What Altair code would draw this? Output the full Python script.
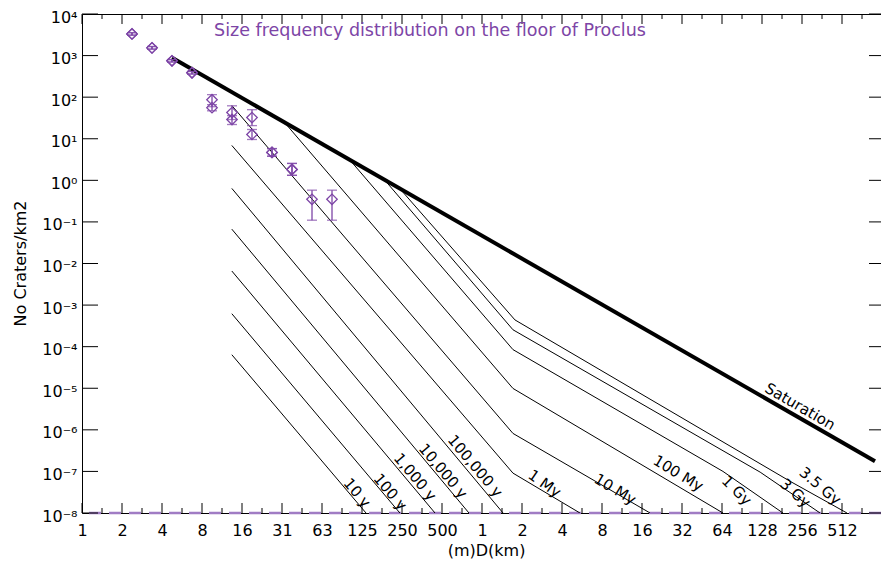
import altair as alt
import pandas as pd

# ---------------- data ----------------
title_text = "Size frequency distribution on the floor of Proclus"
x_title = "(m)D(km)"
y_title = "No Craters/km2"

# x axis: powers of two in km (labels in m below 1 km, then km)
x_tick_exponents = list(range(-10, 10))
x_tick_labels = ["1", "2", "4", "8", "16", "31", "63", "125", "250", "500",
                 "1", "2", "4", "8", "16", "32", "64", "128", "256", "512"]
# y axis: decades
y_tick_exponents = list(range(4, -9, -1))
y_tick_labels = ["10⁴", "10³", "10²", "10¹", "10⁰", "10⁻¹", "10⁻²", "10⁻³",
                 "10⁻⁴", "10⁻⁵", "10⁻⁶", "10⁻⁷", "10⁻⁸"]

# isochrones (D in km, cumulative N per km2)
iso_names = ["10 y", "100 y", "1,000 y", "10,000 y", "100,000 y",
             "1 My", "10 My", "100 My", "1 Gy", "3 Gy", "3.5 Gy"]
iso_D = [
    [0.0131, 0.134],
    [0.0131, 0.241],
    [0.0131, 0.443],
    [0.0131, 0.798],
    [0.0131, 1.44],
    [0.0131, 1.71, 5.46],
    [0.0131, 1.71, 18.4],
    [0.0341, 1.71, 65.1],
    [0.105, 1.71, 65.1, 184.0],
    [0.186, 1.71, 124.0, 350.0],
    [0.254, 1.77, 208.0, 558.0],
]
iso_N = [
    [6.4e-5, 1e-8],
    [6.2e-4, 1e-8],
    [6.6e-3, 1e-8],
    [0.067, 1e-8],
    [0.64, 1e-8],
    [6.9, 9.1e-8, 1e-8],
    [63.0, 8.2e-7, 1e-8],
    [21.0, 9.9e-6, 1e-8],
    [2.7, 8.5e-5, 1.0e-7, 1e-8],
    [1.0, 2.55e-4, 9.6e-8, 1e-8],
    [0.52, 4.4e-4, 5.8e-8, 1e-8],
]

# saturation line
sat_D = [0.00465, 907.0]
sat_N = [883.0, 1.76e-7]

# counted craters (two counts), with error bars
pts_D = [0.002323, 0.003285, 0.004645, 0.00657, 0.009291, 0.01314,
         0.01858, 0.02628, 0.03716, 0.05256, 0.07433]
a_N = [3320, 1535, 748, 386, 87, 42.6, 32.3, 4.7, 1.83, 0.35, 0.35]
a_lo = [3100, 1430, 700, 360, 59, 29, 20.7, 3.8, 1.32, 0.11, 0.11]
a_hi = [3550, 1650, 800, 415, 115, 62, 50, 5.8, 2.55, 0.58, 0.58]
b_N = [3320, 1535, 748, 386, 56, 29, 12.7, 4.7, 1.83]
b_lo = [3100, 1430, 700, 360, 47, 22, 9.6, 3.8, 1.32]
b_hi = [3550, 1650, 800, 415, 66, 36, 16.7, 5.8, 2.55]

# curve labels
label_text = ["10 y", "100 y", "1,000 y", "10,000 y", "100,000 y", "1 My",
              "10 My", "100 My", "1 Gy", "3 Gy", "3.5 Gy", "Saturation"]
label_D = [0.1033, 0.183, 0.2823, 0.4585, 0.798, 2.73, 9.35, 27.9, 74.8,
           208.0, 321.0, 231.0]
label_N = [2.29e-8, 2.42e-8, 5.53e-8, 7.69e-8, 1.01e-7, 3.56e-8, 2.55e-8,
           6.17e-8, 2.55e-8, 2.16e-8, 3.18e-8, 2.48e-6]
label_angle = [50, 50, 50, 50, 50, 35, 31, 31, 45, 42, 40, 30]

# ---------------- build ----------------
W, H = 799, 499
PURPLE = "#7d45a6"
FONT = "DejaVu Sans"

x_major = [2.0 ** e for e in x_tick_exponents]
x_minor = [2.0 ** (e + 0.5) for e in x_tick_exponents]
y_major = [10.0 ** e for e in y_tick_exponents]

xs = alt.Scale(type="log", base=2, domain=[2.0 ** -10, 2.0 ** 9.975], nice=False, zero=False)
ys = alt.Scale(type="log", domain=[1e-8, 1e4], nice=False, zero=False)

x_expr = "[" + ",".join("'%s'" % s for s in x_tick_labels) + "][round(log(datum.value)/LN2)+10]"
y_expr = "[" + ",".join("'%s'" % s for s in y_tick_labels) + "][4-round(log(datum.value)/LN10)]"

xaxis = alt.Axis(values=x_major, labelExpr=x_expr, ticks=False, domain=False, grid=False,
                 labelFlush=False, labelOverlap=False, labelPadding=9, labelFont=FONT,
                 labelFontSize=16, labelColor="black", title=x_title, titleFont=FONT,
                 titleFontSize=16, titleFontWeight="normal", titleColor="black",
                 titleX=404, titleY=37, titleAlign="center", titleBaseline="middle")
yaxis = alt.Axis(values=y_major, labelExpr=y_expr, ticks=False, domain=False, grid=False,
                 labelFlush=False, labelOverlap=False, labelPadding=5, labelFont=FONT,
                 labelFontSize=16, labelColor="black", labelBaseline="middle", labelOffset=3,
                 title=y_title, titleFont=FONT, titleFontSize=16, titleFontWeight="normal",
                 titleColor="black", titleX=-62, titleY=249, titleAngle=270,
                 titleAlign="center", titleBaseline="middle")


def X(f):
    return alt.X(f, scale=xs, axis=xaxis)


def Y(f):
    return alt.Y(f, scale=ys, axis=yaxis)


iso_rows = []
for name, ds, ns in zip(iso_names, iso_D, iso_N):
    for d, n in zip(ds, ns):
        iso_rows.append({"name": name, "D": d, "N": n})
iso_df = pd.DataFrame(iso_rows)
sat_df = pd.DataFrame({"D": sat_D, "N": sat_N})

pts_df = pd.concat([
    pd.DataFrame({"D": pts_D, "N": a_N, "lo": a_lo, "hi": a_hi, "set": "A"}),
    pd.DataFrame({"D": pts_D[:len(b_N)], "N": b_N, "lo": b_lo, "hi": b_hi, "set": "B"}),
])
lab_df = pd.DataFrame({"t": label_text, "D": label_D, "N": label_N, "a": label_angle})

iso = alt.Chart(iso_df).mark_line(color="black", strokeWidth=1, clip=True).encode(
    x=X("D:Q"), y=Y("N:Q"), detail="name:N")
sat = alt.Chart(sat_df).mark_line(color="black", strokeWidth=4, clip=True).encode(
    x=X("D:Q"), y=Y("N:Q"))

bars = alt.Chart(pts_df).mark_rule(color=PURPLE, strokeWidth=1.3).encode(
    x=X("D:Q"), y=Y("lo:Q"), y2="hi:Q")
cap_lo = alt.Chart(pts_df).mark_tick(orient="horizontal", size=10, thickness=1.3, color=PURPLE).encode(
    x=X("D:Q"), y=Y("lo:Q"))
cap_hi = alt.Chart(pts_df).mark_tick(orient="horizontal", size=10, thickness=1.3, color=PURPLE).encode(
    x=X("D:Q"), y=Y("hi:Q"))
diam = alt.Chart(pts_df).mark_point(shape="diamond", size=110, filled=False, strokeWidth=1.3,
                                     color=PURPLE, opacity=1).encode(x=X("D:Q"), y=Y("N:Q"))

floor = alt.Chart(pd.DataFrame({"N": [1e-8]})).mark_rule(
    color="#a07cc4", strokeWidth=2.5, strokeDash=[12, 8]).encode(y=Y("N:Q"))

xmaj_df = pd.DataFrame({"v": x_major})
xmin_df = pd.DataFrame({"v": x_minor})
ymaj_df = pd.DataFrame({"v": y_major})

tick_style = dict(color="black", strokeWidth=1)
xt_bot = alt.Chart(xmaj_df).mark_rule(**tick_style).encode(x=X("v:Q"), y=alt.value(H), y2=alt.value(H - 10))
xt_top = alt.Chart(xmaj_df).mark_rule(**tick_style).encode(x=X("v:Q"), y=alt.value(0), y2=alt.value(10))
xm_bot = alt.Chart(xmin_df).mark_rule(**tick_style).encode(x=X("v:Q"), y=alt.value(H), y2=alt.value(H - 5))
xm_top = alt.Chart(xmin_df).mark_rule(**tick_style).encode(x=X("v:Q"), y=alt.value(0), y2=alt.value(5))
yt_left = alt.Chart(ymaj_df).mark_rule(**tick_style).encode(y=Y("v:Q"), x=alt.value(0), x2=alt.value(16))
yt_right = alt.Chart(ymaj_df).mark_rule(**tick_style).encode(y=Y("v:Q"), x=alt.value(W - 12), x2=alt.value(W))

labels = alt.Chart(lab_df).mark_text(font=FONT, fontSize=15, color="black", align="center",
                                     baseline="middle", dy=-8).encode(
    x=X("D:Q"), y=Y("N:Q"), text="t:N", angle=alt.Angle("a:Q", scale=None))

title = alt.Chart(pd.DataFrame({"t": [title_text]})).mark_text(
    font=FONT, fontSize=17.5, color=PURPLE, align="center", baseline="middle").encode(
    x=alt.value(348), y=alt.value(17), text="t:N")

chart = alt.layer(
    floor, iso, sat, bars, cap_lo, cap_hi, diam,
    xt_bot, xt_top, xm_bot, xm_top, yt_left, yt_right,
    labels, title,
).properties(
    width=W, height=H,
    autosize=alt.AutoSizeParams(type="none"),
    padding={"left": 74, "top": 6, "right": 0, "bottom": 48},
    background="white",
).configure_view(stroke="black", strokeWidth=1)

chart.save("out.html", embed_options={"renderer": "svg", "actions": False})
